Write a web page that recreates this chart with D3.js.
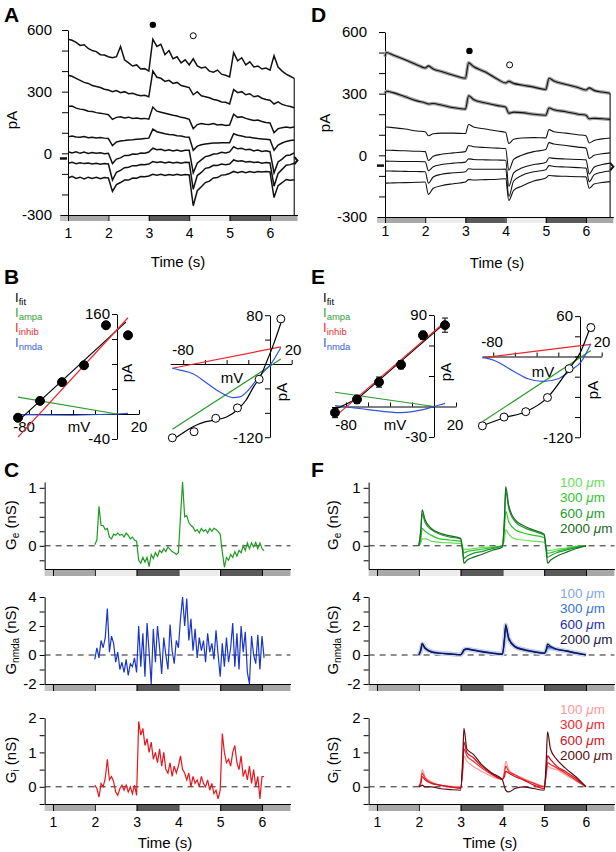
<!DOCTYPE html>
<html><head><meta charset="utf-8">
<script src="https://cdn.jsdelivr.net/npm/d3@7"></script>
<style>body{margin:0;background:#fff}svg text{font-family:"Liberation Sans",Arial,Helvetica,sans-serif}</style>
</head><body><svg id="c" width="616" height="852"></svg>
<script>
// ================= DATA =================
const stimEdges = [0.8, 1, 2, 3, 4, 5, 6, 6.68];
const stimShade = ['#c6c6c6', '#a8a8a8', '#ececec', '#5a5a5a', '#ececec', '#5a5a5a', '#a8a8a8'];
const timeTicks = [1, 2, 3, 4, 5, 6];

// Panel A: raw currents (pA) sampled every 0.1 s from 1.0 to 6.6 s
const timeA = d3.range(57).map(i => +(1 + i * 0.1).toFixed(2));
const traceA1 = [555,550,540,525,528,510,500,495,480,478, 470,465,470,520,455,440,425,430,410,412, 400,555,520,530,480,500,460,470,440,455, 430,460,425,415,420,400,395,405,385,380, 372,490,450,465,430,445,420,425,410,415, 405,475,420,400,385,375,365];
const traceA2 = [380,375,365,355,345,340,330,325,320,312, 308,300,305,295,300,290,292,285,280,282, 275,400,370,365,350,355,340,345,330,325, 320,285,300,280,275,270,262,258,250,248, 240,310,295,300,285,290,275,280,268,262, 258,240,250,238,232,228,222];
const traceA3 = [228,230,220,215,212,205,203,198,195,192, 188,165,175,178,172,176,170,172,168,170, 166,225,205,200,195,190,185,182,175,172, 165,120,140,145,142,140,145,138,140,135, 138,190,175,178,170,165,160,162,155,150, 148,100,120,125,128,124,128];
const traceA4 = [80,84,80,78,82,76,78,75,77,74, 72,38,55,60,62,65,66,68,70,72, 74,118,105,100,95,92,90,86,84,80, 78,15,35,42,45,48,50,50,52,52, 52,95,88,84,80,78,75,72,70,68, 66,15,40,50,58,62,65];
const traceA5 = [8,2,7,0,6,-1,4,1,3,-2, 0,-50,-28,-22,-10,-10,-3,-5,2,1, 6,25,18,20,13,17,11,16,10,15, 15,-95,-48,-32,-16,-12,-3,-2,5,2, 7,32,22,25,17,20,12,16,9,12, 8,-95,-42,-28,-10,-8,2];
const traceA6 = [-48,-44,-51,-46,-50,-47,-52,-48,-53,-49, -52,-130,-92,-83,-70,-68,-60,-60,-54,-56, -52,-40,-45,-41,-47,-42,-47,-43,-48,-44, -45,-175,-108,-93,-73,-69,-58,-59,-52,-55, -52,-32,-38,-36,-42,-40,-45,-42,-48,-45, -47,-160,-98,-78,-58,-55,-48];
const traceA7 = [-120,-112,-122,-116,-124,-116,-122,-117,-123,-118, -120,-185,-152,-142,-130,-130,-120,-121,-113,-114, -110,-102,-107,-102,-108,-103,-106,-102,-107,-103, -105,-255,-182,-163,-142,-135,-120,-118,-106,-104, -98,-88,-94,-88,-94,-88,-93,-88,-91,-88, -90,-215,-157,-143,-127,-131,-128];
const holdA = -25, endA = -35;

// Panel D: averaged currents (pA)
const timeD = [1.0,1.03,1.2,1.5,1.8,2.0,2.08,2.2,2.4,2.7,3.0,3.08,3.2,3.5,3.8,4.0,4.08,4.2,4.4,4.7,5.0,5.08,5.2,5.5,5.8,6.0,6.08,6.2,6.4,6.6];
const traceD1 = [480,500,488,465,440,425,435,420,408,390,375,450,432,405,370,352,360,350,342,332,320,375,362,345,330,318,328,316,308,302];
const traceD2 = [300,312,305,285,265,255,250,252,245,232,225,290,272,255,242,235,205,210,208,200,195,230,222,212,200,195,178,180,178,175];
const traceD3 = [130,138,135,128,118,115,95,105,108,108,106,150,138,128,118,112,58,78,84,86,85,125,115,108,100,95,60,72,80,84];
const traceD4 = [25,25,24,22,20,18,-25,-5,5,12,18,48,42,38,35,33,-72,-20,0,18,28,62,55,48,40,35,-15,0,8,12];
const traceD5 = [-28,-28,-29,-30,-30,-31,-75,-55,-45,-38,-33,-17,-20,-22,-23,-24,-150,-85,-62,-45,-35,-12,-15,-18,-20,-22,-90,-58,-45,-38];
const traceD6 = [-76,-76,-77,-78,-79,-80,-135,-105,-92,-85,-80,-65,-68,-68,-68,-67,-200,-125,-98,-80,-70,-50,-54,-57,-60,-62,-128,-95,-82,-76];
const traceD7 = [-135,-135,-134,-133,-131,-130,-190,-160,-148,-138,-130,-118,-120,-118,-116,-114,-220,-170,-150,-125,-110,-98,-100,-102,-104,-105,-160,-140,-132,-128];
const holdD = -50, endD = -55;

const markerTimes = [3.1, 4.1];
const markerA = [625, 572];
const markerD = [508, 440];

// Panels B / E: I-V relations (mV, pA)
const ivV = [-90, -70, -50, -30, -10, 10];
const bFilled = [-6, 21, 51, 78, 142, 126];
const bOpen = [-121, -111, -89, -72, -25, 74];
const eFilled = [-6, 7, 24, 41, 70, 80];
const eFilledErr = [5, 4, 5, 4, 4, 7];
const eOpen = [-103, -90, -82, -61, -18, 43];
const eOpenErr = [4, 3, 3, 3, 3, 5];

const bL_fitV = [-91, 8], bL_fitI = [-13, 147];
const bL_inhV = [-90, 10], bL_inhI = [-37, 154];
const bL_ampV = [-90, 0], bL_ampI = [27, 0];
const bL_nmdV = [-90, -40, 0, 10], bL_nmdI = [-1, -2, 0, 1];

const bR_fitV = [-90,-81,-71,-60,-51,-40,-30,-22,-15,-9,-3,3,10];
const bR_fitI = [-125,-114,-103,-95,-92,-87,-75,-59,-37,-21,4,31,67];
const bR_inhV = [-90, 10], bR_inhI = [-7, 28];
const bR_ampV = [-90, 10], bR_ampI = [-107, 8];
const bR_nmdV = [-90,-83,-71,-60,-49,-40,-34,-28,-20,-12,-6,0,10];
const bR_nmdI = [-7,-10,-16,-29,-43,-52,-55,-54,-43,-25,-13,-2,27];

const eL_fitV = [-90, -69, 10], eL_fitI = [-3, 8, 82];
const eL_inhV = [-90, 11], eL_inhI = [-10, 84];
const eL_ampV = [-90, 0], eL_ampI = [14, 0];
const eL_nmdV = [-90, -60, -30, -10, 0, 10], eL_nmdI = [1, -3, -6, -3, 0, 3];

const eR_fitV = [-90, -70, -50, -30, -10, 0, 10];
const eR_fitI = [-103, -91, -82, -61, -18, 5, 46];
const eR_inhV = [-90, 10], eR_inhI = [-2, 18];
const eR_ampV = [-90, 10], eR_ampI = [-97, 9];
const eR_nmdV = [-90,-79,-60,-48,-34,-20,-8,1,10];
const eR_nmdI = [-1,-6,-23,-33,-37,-33,-20,-8,19];

// Panel C: conductances (nS), every 0.05 s from 2.0 to 6.05 s
const timeC = d3.range(82).map(i => +(2 + i * 0.05).toFixed(2));
const geC = [0.02,0.1,0.68,0.35,0.35,0.28,0.3,0.15,0.12,0.2, 0.18,0.22,0.18,0.2,0.15,0.22,0.18,0.12,0.15,0.1, 0.08,-0.25,-0.3,-0.2,-0.28,-0.2,-0.36,-0.15,-0.22,-0.12, -0.18,-0.08,-0.12,-0.05,-0.1,-0.02,-0.06,-0.1,-0.12,-0.15, -0.12,0.5,1.1,0.5,0.52,0.4,0.35,0.32,0.25,0.28, 0.22,0.3,0.25,0.28,0.22,0.3,0.25,0.3,0.28,0.25, 0.2,-0.1,-0.37,-0.2,-0.25,-0.15,-0.2,-0.1,-0.18,-0.08, -0.12,0,-0.08,0.05,-0.05,0.05,-0.02,0.06,-0.05,0.05, -0.05,-0.08];
const gnC = [-0.3,0.5,-0.2,1.0,0.5,1.2,3.2,0.2,1.3,0.8, -0.5,0.2,-1.0,-0.5,-1.2,-0.3,-1.4,-0.6,-0.8,-0.2, -1.2,2.0,-0.8,1.5,-1.5,2.2,0.2,-2.0,1.8,-0.5, 2.0,0.5,-1.3,1.2,0.0,-1.0,2.1,0.3,-0.6,1.0, 0.5,2.5,4.0,2.0,3.9,1.0,2.5,0.3,1.8,-0.2, 1.2,0.3,1.0,-0.5,1.5,0.2,0.8,-0.3,1.7,0.0, -1.5,0.8,-0.8,1.2,-0.5,0.5,2.2,-0.8,1.5,-1.0, 2.0,0.2,1.6,-1.2,-2.0,1.3,0.0,-0.6,1.4,-1.0, 1.3,-0.2];
const giC = [0.05,-0.05,-0.3,0.1,0.0,0.25,0.8,0.2,0.3,0.15, -0.15,-0.25,-0.05,0.05,-0.1,0.05,-0.15,0.0,-0.2,0.05, -0.25,1.9,1.5,1.7,1.2,1.4,1.0,1.3,0.8,1.0, 0.7,1.1,0.6,1.0,0.5,0.4,0.7,0.3,0.6,0.4, 0.6,0.9,0.5,0.4,0.2,0.4,0.0,0.3,0.1,0.2, 0.0,0.3,0.1,0.0,0.2,-0.1,0.1,-0.2,-0.1,-0.35, -0.1,1.55,1.0,0.7,0.8,0.6,1.0,1.2,0.7,0.5, 0.9,0.3,0.5,0.2,0.6,0.1,0.5,0.0,0.3,-0.35, 0.3,0.3];

// Panel F: model conductances (nS) for four distances
const distances = ['100', '300', '600', '2000'];
const timeF = [2.0,2.05,2.08,2.15,2.3,2.5,2.75,3.0, 3.05,3.08,3.15,3.3,3.5,3.75,4.0, 4.05,4.08,4.15,4.3,4.5,4.75,5.0, 5.05,5.08,5.15,5.3,5.5,5.75,6.0];
const geF100  = [0,0.05,0.12,0.12,0.08,0.06,0.05,0.04, -0.02,-0.06,-0.06,-0.05,-0.03,-0.02,0, 0.12,0.28,0.2,0.12,0.1,0.08,0.06, -0.03,-0.08,-0.08,-0.06,-0.04,-0.01,0];
const geF300  = [0,0.12,0.3,0.25,0.18,0.12,0.1,0.08, -0.05,-0.12,-0.1,-0.08,-0.06,-0.03,0, 0.3,0.6,0.42,0.28,0.22,0.18,0.14, -0.05,-0.13,-0.12,-0.09,-0.06,-0.02,0];
const geF600  = [0,0.25,0.55,0.4,0.28,0.2,0.15,0.12, -0.08,-0.22,-0.18,-0.13,-0.1,-0.05,0, 0.45,0.95,0.65,0.42,0.32,0.25,0.18, -0.08,-0.2,-0.17,-0.12,-0.08,-0.03,0];
const geF2000 = [0,0.3,0.62,0.45,0.3,0.22,0.17,0.13, -0.1,-0.3,-0.25,-0.2,-0.15,-0.08,-0.02, 0.5,1.02,0.7,0.45,0.35,0.27,0.2, -0.1,-0.3,-0.25,-0.18,-0.12,-0.05,0];
const gnF100  = [0,0.25,0.6,0.45,0.25,0.15,0.1,0.03, 0.12,0.28,0.4,0.35,0.25,0.15,0.06, 0.9,1.7,1.1,0.6,0.4,0.25,0.15, 0.25,0.45,0.45,0.38,0.3,0.15,0.02];
const gnF300  = [0,0.3,0.7,0.45,0.25,0.14,0.08,0.02, 0.15,0.3,0.42,0.35,0.25,0.15,0.06, 1.0,1.9,1.15,0.6,0.4,0.25,0.14, 0.3,0.5,0.5,0.4,0.3,0.15,0.02];
const gnF600  = [0,0.35,0.75,0.5,0.22,0.12,0.06,0.0, 0.2,0.38,0.45,0.35,0.25,0.14,0.06, 1.1,2.0,1.2,0.6,0.38,0.22,0.12, 0.35,0.6,0.55,0.38,0.28,0.12,0.0];
const gnF2000 = [0,0.4,0.8,0.45,0.2,0.12,0.08,0.02, 0.2,0.35,0.4,0.32,0.22,0.12,0.05, 1.2,2.1,1.1,0.55,0.35,0.22,0.12, 0.4,0.75,0.6,0.4,0.3,0.15,0.0];
const giF100  = [0,0.2,0.5,0.3,0.15,0.05,0.02,0.0, 0.4,0.9,0.75,0.6,0.45,0.3,0.2, 0.5,0.75,0.5,0.35,0.25,0.12,0.02, 0.35,0.6,0.55,0.5,0.35,0.18,0];
const giF300  = [0,0.15,0.4,0.25,0.12,0.05,0.0,-0.02, 0.5,1.1,0.9,0.75,0.55,0.35,0.22, 0.4,0.6,0.45,0.35,0.22,0.1,0.0, 0.4,0.7,0.65,0.55,0.4,0.2,0];
const giF600  = [0,0.1,0.3,0.2,0.1,0.05,0.0,-0.05, 0.6,1.3,1.0,0.85,0.6,0.38,0.22, 0.3,0.45,0.4,0.3,0.2,0.05,-0.05, 0.5,0.9,0.8,0.6,0.45,0.25,0];
const giF2000 = [0,0.02,0.05,0.0,0.0,-0.05,-0.08,-0.1, 0.8,1.7,1.1,0.95,0.65,0.4,0.2, 0.0,-0.1,-0.15,-0.05,0.0,-0.05,-0.1, 0.8,1.6,1.1,0.8,0.55,0.3,0];

// ================= DRAWING =================
const svg = d3.select('#c');
const FONT = '"Liberation Sans", Arial, Helvetica, sans-serif';
const GREEN = '#2a9a2a', RED = '#e8262b', BLUE = '#2f55d4';
const greens = ['#66e05a', '#2ec52e', '#1f9b2a', '#1b6b24'];
const blues = ['#7fa6f0', '#3a70e0', '#1c2fb0', '#15153f'];
const reds = ['#ff9a9a', '#f0282e', '#cc141e', '#5a0d12'];

function tScale(x1, x6) {
  const k = (x6 - x1) / 5;
  return d3.scaleLinear().domain([0.8, 6.68]).range([x1 - 0.2 * k, x1 + 5.68 * k]);
}
function styleAxis(g, fs) {
  g.select('.domain').attr('stroke', '#000');
  g.selectAll('.tick line').attr('stroke', '#000');
  g.selectAll('text').attr('font-size', fs || 14).attr('fill', '#000').attr('font-family', FONT);
}
function timeStrip(g, x, yTop, h, pad, showLabels) {
  g.append('g').selectAll('rect').data(d3.range(stimShade.length)).join('rect')
    .attr('x', i => x(stimEdges[i])).attr('width', i => x(stimEdges[i + 1]) - x(stimEdges[i]))
    .attr('y', yTop).attr('height', h).attr('fill', i => stimShade[i]);
  const ax = d3.axisBottom(x).tickValues(timeTicks).tickSize(h).tickSizeOuter(0).tickPadding(pad)
    .tickFormat(showLabels ? d3.format('d') : () => '');
  const ag = g.append('g').attr('transform', `translate(0,${yTop})`).call(ax);
  styleAxis(ag, 14);
}
function letter(t, x, y) {
  svg.append('text').attr('x', x).attr('y', y).attr('font-size', 21).attr('font-weight', 'bold').text(t);
}
function rotLabel(g, x, y, txt, fs) {
  g.append('text').attr('transform', `translate(${x},${y}) rotate(-90)`).attr('text-anchor', 'middle')
    .attr('font-size', fs || 14).text(txt);
}

// ---------- current panels (A, D) ----------
function currentPanel(cfg) {
  const g = svg.append('g');
  const x = tScale(cfg.x1, cfg.x6);
  const y = d3.scaleLinear().domain([-300, 600]).range([cfg.yb, cfg.yt]);
  timeStrip(g, x, cfg.yb, 6, cfg.tpad, true);
  const ay = d3.axisLeft(y).tickValues(d3.range(-300, 601, 100)).tickSize(6).tickSizeOuter(0).tickPadding(cfg.ypad)
    .tickFormat(d => [600, 300, 0, -300].includes(d) ? d : '');
  const ag = g.append('g').attr('transform', `translate(${x(1)},0)`).call(ay);
  styleAxis(ag, 15);
  const ln = d3.line().x(d => x(d[0])).y(d => y(d[1])).curve(cfg.curve);
  cfg.traces.forEach((tr, i) => {
    if (cfg.band && i < 2) {
      g.append('path').attr('d', ln(d3.zip(cfg.time, tr))).attr('fill', 'none').attr('stroke', '#a4a4a4').attr('stroke-width', 3.5);
    }
    g.append('path').attr('d', ln(d3.zip(cfg.time, tr))).attr('fill', 'none').attr('stroke', '#111').attr('stroke-width', cfg.sw);
  });
  const top = cfg.traces[0][cfg.traces[0].length - 1];
  g.append('line').attr('x1', x(6.6)).attr('x2', x(6.6)).attr('y1', y(top)).attr('y2', y(-300)).attr('stroke', '#222').attr('stroke-width', 1.2);
  g.append('path').attr('d', d3.line()([[x(6.6), y(cfg.endHold + 18)], [x(6.68), y(cfg.endHold)], [x(6.6), y(cfg.endHold - 18)]]))
    .attr('fill', 'none').attr('stroke', '#111').attr('stroke-width', 2);
  g.append('line').attr('x1', x(0.8)).attr('x2', x(1) - 1).attr('y1', y(cfg.hold)).attr('y2', y(cfg.hold)).attr('stroke', '#111').attr('stroke-width', 2.5);
  g.append('circle').attr('cx', x(markerTimes[0])).attr('cy', y(cfg.markers[0])).attr('r', 3.2).attr('fill', '#000');
  g.append('circle').attr('cx', x(markerTimes[1])).attr('cy', y(cfg.markers[1])).attr('r', 3).attr('fill', '#fff').attr('stroke', '#000').attr('stroke-width', 1);
  rotLabel(g, cfg.pax, cfg.pay, 'pA', 15);
  g.append('text').attr('x', cfg.tx).attr('y', cfg.ty).attr('text-anchor', 'middle').attr('font-size', 15).text('Time (s)');
}

currentPanel({ x1: 68, x6: 270, yt: 30, yb: 215, tpad: 7, ypad: 10, time: timeA, curve: d3.curveLinear, sw: 1.5,
  traces: [traceA1, traceA2, traceA3, traceA4, traceA5, traceA6, traceA7], hold: holdA, endHold: endA,
  markers: markerA, pax: 17, pay: 120, tx: 178, ty: 267 });
currentPanel({ x1: 385, x6: 586, yt: 32, yb: 217, tpad: 3, ypad: 12, time: timeD, curve: d3.curveMonotoneX, sw: 1.1, band: true,
  traces: [traceD1, traceD2, traceD3, traceD4, traceD5, traceD6, traceD7], hold: holdD, endHold: endD,
  markers: markerD, pax: 330, pay: 123, tx: 497, ty: 268 });

// ---------- I-V panels (B, E) ----------
function ivPanel(c) {
  const g = svg.append('g');
  const x = d3.scaleLinear().domain(c.vDom).range([c.cx + c.vDom[0] * c.kx, c.cx + c.vDom[1] * c.kx]);
  const y = d3.scaleLinear().domain(c.iDom).range([c.cy - c.iDom[0] * c.ky, c.cy - c.iDom[1] * c.ky]);
  const ay = d3.axisLeft(y).tickValues(c.iTicks).tickSize(5).tickSizeOuter(0).tickPadding(2)
    .tickFormat(d => (d === c.iDom[0] || d === c.iDom[1]) ? d : '');
  styleAxis(g.append('g').attr('transform', `translate(${c.cx},0)`).call(ay), 15);
  const ax = d3.axisBottom(x).tickValues([-80, -60, -40, -20, 20]).tickSize(-4).tickSizeOuter(0).tickFormat(() => '');
  styleAxis(g.append('g').attr('transform', `translate(0,${c.cy})`).call(ax), 14);
  c.texts.forEach(t => {
    if (t.rot) rotLabel(g, t.x, t.y, t.s, 15);
    else g.append('text').attr('x', t.x).attr('y', t.y).attr('text-anchor', 'middle').attr('font-size', 15).text(t.s);
  });
  const ln = (cur) => d3.line().x(d => x(d[0])).y(d => y(d[1])).curve(cur || d3.curveLinear);
  c.lines.forEach(L => {
    g.append('path').attr('d', ln(L.curve)(d3.zip(L.v, L.i))).attr('fill', 'none').attr('stroke', L.color).attr('stroke-width', 1.2);
  });
  const pts = d3.zip(ivV, c.pts);
  if (c.err) {
    g.selectAll(null).data(d3.zip(ivV, c.pts, c.err)).join('path')
      .attr('d', d => `M${x(d[0]) - 3},${y(d[1] + d[2])}H${x(d[0]) + 3}M${x(d[0])},${y(d[1] + d[2])}V${y(d[1] - d[2])}M${x(d[0]) - 3},${y(d[1] - d[2])}H${x(d[0]) + 3}`)
      .attr('stroke', '#000').attr('stroke-width', 1).attr('fill', 'none');
  }
  g.selectAll(null).data(pts).join('circle').attr('cx', d => x(d[0])).attr('cy', d => y(d[1]))
    .attr('r', c.filled ? 4.5 : 4).attr('fill', c.filled ? '#000' : '#fff').attr('stroke', '#000').attr('stroke-width', 1);
}
function ivLegend(x, y0) {
  const items = [['fit', '#000'], ['ampa', '#3aa03a'], ['inhib', '#e53030'], ['nmda', '#3a5fd8']];
  items.forEach((it, i) => {
    const t = svg.append('text').attr('x', x).attr('y', y0 + i * 15).attr('font-size', 13).attr('fill', it[1]);
    t.append('tspan').text('I');
    t.append('tspan').attr('font-size', 9.5).attr('dy', 3).text(it[0]);
  });
}
ivLegend(15, 302);
ivLegend(323, 302);

ivPanel({ cx: 117, cy: 414, kx: 1.1, ky: 0.625, vDom: [-92, 20], iDom: [-40, 160], iTicks: [-40, 0, 40, 80, 120, 160],
  texts: [{ s: '-80', x: 24, y: 432 }, { s: 'mV', x: 79, y: 432 }, { s: '20', x: 139, y: 432 }, { s: 'pA', x: 132, y: 373, rot: true }],
  lines: [{ v: bL_ampV, i: bL_ampI, color: GREEN }, { v: bL_nmdV, i: bL_nmdI, color: BLUE }, { v: bL_fitV, i: bL_fitI, color: '#000' }, { v: bL_inhV, i: bL_inhI, color: RED }],
  pts: bFilled, filled: true });
ivPanel({ cx: 270, cy: 364, kx: 1.085, ky: 0.61, vDom: [-92, 20], iDom: [-120, 80], iTicks: [-120, -80, -40, 0, 40, 80],
  texts: [{ s: '-80', x: 183, y: 355 }, { s: '20', x: 293, y: 355 }, { s: 'mV', x: 232, y: 383 }, { s: 'pA', x: 287, y: 392, rot: true }],
  lines: [{ v: bR_inhV, i: bR_inhI, color: RED }, { v: bR_ampV, i: bR_ampI, color: GREEN }, { v: bR_nmdV, i: bR_nmdI, color: BLUE, curve: d3.curveMonotoneX }, { v: bR_fitV, i: bR_fitI, color: '#000', curve: d3.curveMonotoneX }],
  pts: bOpen, filled: false });
ivPanel({ cx: 434, cy: 406.5, kx: 1.1, ky: 1.017, vDom: [-90, 20], iDom: [-30, 90], iTicks: [-30, 0, 30, 60, 90],
  texts: [{ s: '-80', x: 346, y: 430 }, { s: 'mV', x: 395, y: 430 }, { s: '20', x: 455, y: 430 }, { s: 'pA', x: 451, y: 372, rot: true }],
  lines: [{ v: eL_ampV, i: eL_ampI, color: GREEN }, { v: eL_nmdV, i: eL_nmdI, color: BLUE, curve: d3.curveMonotoneX }, { v: eL_fitV, i: eL_fitI, color: '#000' }, { v: eL_inhV, i: eL_inhI, color: RED }],
  pts: eFilled, err: eFilledErr, filled: true });
ivPanel({ cx: 580, cy: 356.5, kx: 1.085, ky: 0.673, vDom: [-90, 20], iDom: [-120, 60], iTicks: [-120, -90, -60, -30, 0, 30, 60],
  texts: [{ s: '-80', x: 492, y: 347 }, { s: '20', x: 602, y: 347 }, { s: 'mV', x: 543, y: 377 }, { s: 'pA', x: 598, y: 390, rot: true }],
  lines: [{ v: eR_inhV, i: eR_inhI, color: RED }, { v: eR_ampV, i: eR_ampI, color: GREEN }, { v: eR_nmdV, i: eR_nmdI, color: BLUE, curve: d3.curveMonotoneX }, { v: eR_fitV, i: eR_fitI, color: '#000', curve: d3.curveMonotoneX }],
  pts: eOpen, err: eOpenErr, filled: false });

// ---------- conductance panels (C, F) ----------
function gPanel(c) {
  const g = svg.append('g');
  const x = c.x;
  const y = d3.scaleLinear().domain(c.dom).range([c.bot, c.top]);
  timeStrip(g, x, c.bot, 7, 6, c.showT);
  const ay = d3.axisLeft(y).tickValues(c.ticks).tickSize(5).tickSizeOuter(0).tickPadding(3)
    .tickFormat(d => c.labels.includes(d) ? d : '');
  styleAxis(g.append('g').attr('transform', `translate(${x(0.8)},0)`).call(ay), 15);
  g.append('line').attr('x1', x(0.8)).attr('x2', x(6.68)).attr('y1', y(0)).attr('y2', y(0))
    .attr('stroke', '#222').attr('stroke-dasharray', '6,5').attr('stroke-width', 1);
  const ln = d3.line().x(d => x(d[0])).y(d => y(d[1])).curve(c.curve);
  c.traces.forEach(tr => {
    if (tr.band) g.append('path').attr('d', ln(d3.zip(c.time, tr.v))).attr('fill', 'none').attr('stroke', tr.band).attr('stroke-width', 4);
  });
  c.traces.forEach(tr => {
    g.append('path').attr('d', ln(d3.zip(c.time, tr.v))).attr('fill', 'none').attr('stroke', tr.color).attr('stroke-width', 1.2);
  });
  const t = g.append('text').attr('transform', `translate(${c.lx},${c.ly}) rotate(-90)`).attr('text-anchor', 'middle').attr('font-size', 15);
  t.append('tspan').text('G');
  t.append('tspan').attr('font-size', 10).attr('dy', 3).text(c.sub);
  t.append('tspan').attr('dy', -3).text(' (nS)');
  if (c.legend) {
    c.legend.forEach((col, i) => {
      const lt = g.append('text').attr('x', 560).attr('y', c.legY + i * 15.3).attr('font-size', 13.5).attr('fill', col);
      lt.append('tspan').text(distances[i] + ' ');
      lt.append('tspan').attr('font-style', 'italic').text('\u03bc');
      lt.append('tspan').text('m');
    });
  }
  if (c.showT) g.append('text').attr('x', c.tx).attr('y', 848).attr('text-anchor', 'middle').attr('font-size', 15).text('Time (s)');
}
const xC = tScale(53, 262);
const xF = tScale(377, 586);
const geDom = [-0.4, 1.1], gnDom = [-2, 4], giDom = [-0.5, 2];
const geBox = [482, 569], gnBox = [597, 684], giBox = [718, 804];

gPanel({ x: xC, dom: geDom, top: geBox[0], bot: geBox[1], ticks: [-0.25, 0, 0.25, 0.5, 0.75, 1], labels: [0, 1], sub: 'e', lx: 16, ly: 525,
  time: timeC, curve: d3.curveLinear, traces: [{ v: geC, color: '#1e9b1e' }] });
gPanel({ x: xC, dom: gnDom, top: gnBox[0], bot: gnBox[1], ticks: [-2, -1, 0, 1, 2, 3, 4], labels: [-2, 0, 2, 4], sub: 'nmda', lx: 16, ly: 640,
  time: timeC, curve: d3.curveLinear, traces: [{ v: gnC, color: '#1a36c8' }] });
gPanel({ x: xC, dom: giDom, top: giBox[0], bot: giBox[1], ticks: [-0.5, 0, 0.5, 1, 1.5, 2], labels: [0, 1, 2], sub: 'i', lx: 16, ly: 760,
  time: timeC, curve: d3.curveLinear, traces: [{ v: giC, color: '#e8161c' }], showT: true, tx: 165 });

gPanel({ x: xF, dom: geDom, top: geBox[0], bot: geBox[1], ticks: [-0.25, 0, 0.25, 0.5, 0.75, 1], labels: [0, 1], sub: 'e', lx: 338, ly: 525,
  time: timeF, curve: d3.curveMonotoneX, legend: greens, legY: 487,
  traces: [geF100, geF300, geF600, geF2000].map((v, i) => ({ v, color: greens[i] })) });
gPanel({ x: xF, dom: gnDom, top: gnBox[0], bot: gnBox[1], ticks: [-2, -1, 0, 1, 2, 3, 4], labels: [-2, 0, 2, 4], sub: 'nmda', lx: 338, ly: 640,
  time: timeF, curve: d3.curveMonotoneX, legend: blues, legY: 598,
  traces: [gnF100, gnF300, gnF600, gnF2000].map((v, i) => ({ v, color: blues[i], band: '#c9d3ee' })) });
gPanel({ x: xF, dom: giDom, top: giBox[0], bot: giBox[1], ticks: [-0.5, 0, 0.5, 1, 1.5, 2], labels: [0, 1, 2], sub: 'i', lx: 338, ly: 760,
  time: timeF, curve: d3.curveMonotoneX, legend: reds, legY: 714, showT: true, tx: 490,
  traces: [giF100, giF300, giF600, giF2000].map((v, i) => ({ v, color: reds[i] })) });

letter('A', 4, 22); letter('D', 311, 22);
letter('B', 4, 284); letter('E', 311, 284);
letter('C', 4, 477); letter('F', 311, 477);
</script></body></html>
